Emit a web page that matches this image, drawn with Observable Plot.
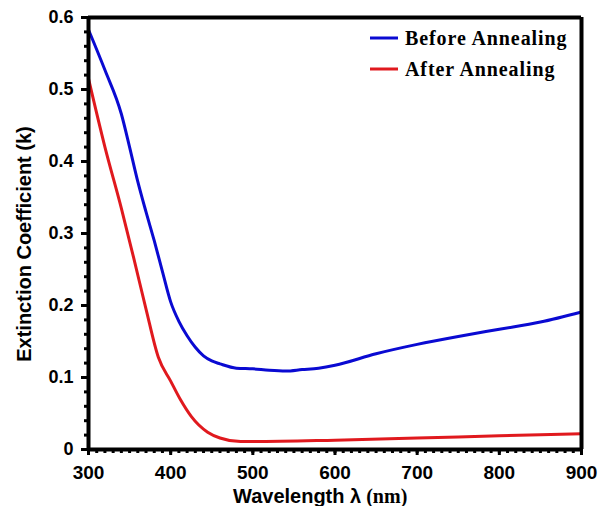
<!DOCTYPE html>
<html>
<head>
<meta charset="utf-8">
<script src="https://cdn.jsdelivr.net/npm/d3@7"></script>
<script src="https://cdn.jsdelivr.net/npm/@observablehq/plot@0.6"></script>
<style>
  html, body { margin: 0; padding: 0; background: #fff; }
  #chart { position: relative; width: 599px; height: 506px; }
  #chart svg [aria-label$="tick"], #chart svg [aria-label$="tick"] path { stroke: #000; stroke-width: 3px; stroke-opacity: 1; }
</style>
</head>
<body>
<div id="chart"></div>
<script>
// ---- data ----
const wavelengthBefore = [300, 320, 340, 350, 360, 370, 380, 390, 400, 410, 420, 430, 440, 450, 460, 480, 500, 520, 540, 560, 580, 600, 650, 700, 750, 800, 850, 900];
const kBefore          = [0.583, 0.527, 0.466, 0.420, 0.372, 0.330, 0.290, 0.247, 0.205, 0.178, 0.158, 0.142, 0.130, 0.123, 0.119, 0.113, 0.112, 0.110, 0.109, 0.111, 0.113, 0.117, 0.133, 0.146, 0.157, 0.167, 0.177, 0.191];

const wavelengthAfter = [300, 320, 340, 355, 370, 385, 400, 412, 425, 445, 460, 485, 500, 600, 700, 800, 900];
const kAfter          = [0.515, 0.420, 0.335, 0.266, 0.195, 0.128, 0.095, 0.069, 0.046, 0.024, 0.016, 0.011, 0.011, 0.013, 0.016, 0.019, 0.022];

const seriesNames  = ["Before Annealing", "After Annealing"];
const seriesColors = ["#0a0ad2", "#e0191e"];

const xDomain = [300, 900];
const yDomain = [0, 0.6];
const xMajorTicks = [300, 400, 500, 600, 700, 800, 900];
const yMajorTicks = [0, 0.1, 0.2, 0.3, 0.4, 0.5, 0.6];
const xMinorTicks = d3.range(300, 901, 10);
const yMinorTicks = d3.range(0, 0.6001, 0.02);

const xLabelMain = "Wavelength λ";
const xLabelUnit = " (nm)";
const yLabel = "Extinction Coefficient (k)";

// ---- tables ----
const before = wavelengthBefore.map((w, i) => ({w, k: kBefore[i]}));
const after  = wavelengthAfter.map((w, i) => ({w, k: kAfter[i]}));

const sans = "'Liberation Sans', Arial, sans-serif";
const serif = "'Liberation Serif', 'Times New Roman', serif";

const svg = Plot.plot({
  width: 599,
  height: 506,
  marginTop: 17,
  marginRight: 18,
  marginBottom: 57,
  marginLeft: 88,
  style: {background: "#fff", color: "#000", fontFamily: sans},
  x: {domain: xDomain},
  y: {domain: yDomain},
  marks: [
    Plot.axisY(yMinorTicks, {tickSize: 4, stroke: "#000", strokeWidth: 3, tickFormat: () => "", label: null}),
    Plot.axisY(yMajorTicks, {tickSize: 7, stroke: "#000", strokeWidth: 3, tickPadding: 8, label: null,
      tickFormat: d => d === 0 ? "0" : d.toFixed(1), fontSize: 18, fontWeight: "bold"}),
    Plot.axisX(xMinorTicks, {tickSize: 4, stroke: "#000", strokeWidth: 3, tickFormat: () => "", label: null}),
    Plot.axisX(xMajorTicks, {tickSize: 6, stroke: "#000", strokeWidth: 3, tickPadding: 10, label: null,
      tickFormat: d => String(d), fontSize: 19, fontWeight: "bold"}),
    Plot.line(before, {x: "w", y: "k", stroke: seriesColors[0], strokeWidth: 3, curve: "monotone-x"}),
    Plot.line(after,  {x: "w", y: "k", stroke: seriesColors[1], strokeWidth: 3, curve: "monotone-x"}),
    Plot.ruleX(xDomain, {stroke: "#000", strokeWidth: 4}),
    Plot.ruleY(yDomain, {stroke: "#000", strokeWidth: 4})
  ]
});

const s = d3.select(svg);

// x axis label (mixed fonts)
const xl = s.append("text")
  .attr("x", 233).attr("y", 503)
  .attr("text-anchor", "start")
  .attr("fill", "#000");
xl.append("tspan").text(xLabelMain)
  .attr("font-family", sans).attr("font-weight", "bold").attr("font-size", 20);
xl.append("tspan").text(xLabelUnit)
  .attr("font-family", serif).attr("font-weight", "bold").attr("font-size", 20);

// y axis label
s.append("text")
  .attr("transform", "translate(31,244) rotate(-90)")
  .attr("text-anchor", "middle")
  .attr("font-family", sans).attr("font-weight", "bold").attr("font-size", 20)
  .attr("fill", "#000")
  .text(yLabel);

// legend
const leg = s.append("g");
seriesNames.forEach((name, i) => {
  const y = 38 + i * 31;
  leg.append("line").attr("x1", 370).attr("x2", 398).attr("y1", y).attr("y2", y)
    .attr("stroke", seriesColors[i]).attr("stroke-width", 3);
  leg.append("text").attr("x", 405).attr("y", y + 7)
    .attr("text-anchor", "start")
    .attr("font-family", serif).attr("font-weight", "bold").attr("font-size", 20)
    .attr("letter-spacing", 0.9)
    .attr("fill", "#000").text(name);
});

document.getElementById("chart").appendChild(svg);
</script>
</body>
</html>
